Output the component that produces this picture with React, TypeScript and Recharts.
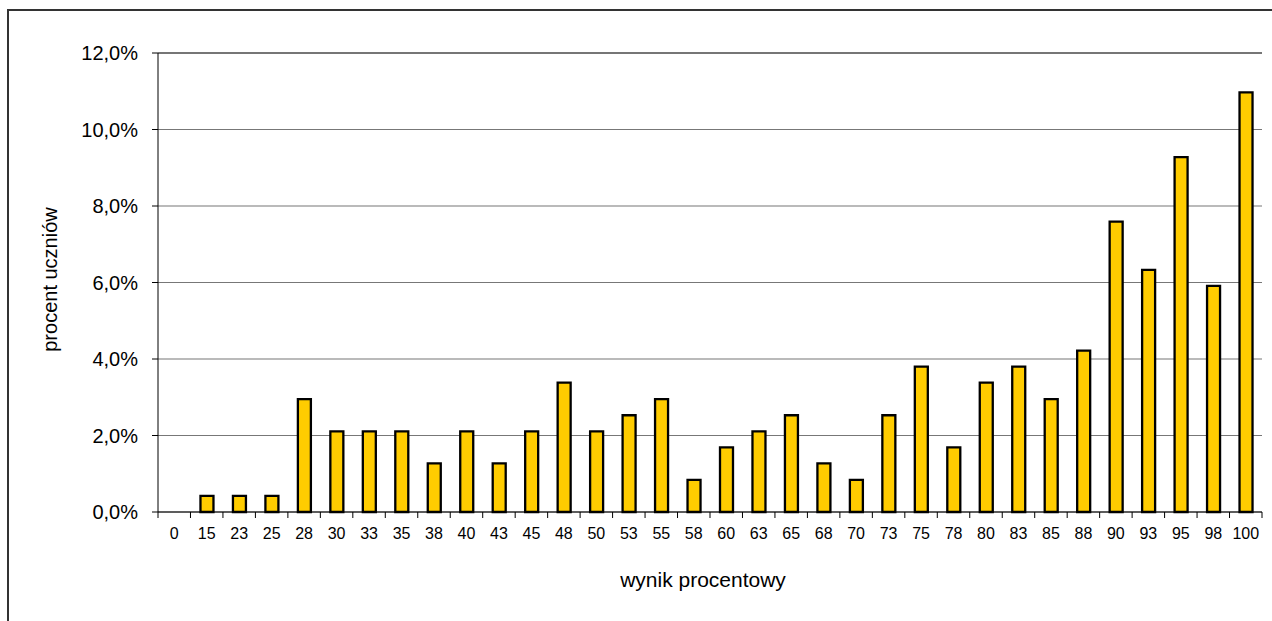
import React from 'react';
import { BarChart, Bar, XAxis, YAxis, CartesianGrid, ReferenceLine } from 'recharts';

const categories = ['0','15','23','25','28','30','33','35','38','40','43','45','48','50','53','55','58','60','63','65','68','70','73','75','78','80','83','85','88','90','93','95','98','100'];
const percentValues = [0, 0.42, 0.42, 0.42, 2.95, 2.11, 2.11, 2.11, 1.27, 2.11, 1.27, 2.11, 3.38, 2.11, 2.53, 2.95, 0.84, 1.69, 2.11, 2.53, 1.27, 0.84, 2.53, 3.80, 1.69, 3.38, 3.80, 2.95, 4.22, 7.59, 6.33, 9.28, 5.91, 10.97];
const yTicks = [0, 2, 4, 6, 8, 10, 12];

const data = categories.map((c, i) => ({ cat: c, value: percentValues[i] }));

const FONT = '"Liberation Sans", Arial, sans-serif';
const CHART_W = 1270;
const CHART_H = 640;
const MARGIN = { top: 42, right: 17, bottom: 49, left: 49 };
const Y_W = 100;
const X_H = 90;
const PLOT_W = CHART_W - MARGIN.left - MARGIN.right - Y_W;
const BAND = PLOT_W / categories.length;

const fmt = (v: number) => v.toFixed(1).replace('.', ',') + '%';

const XTick = (props: any) => {
  const { x, y, payload, index } = props;
  const last = index === categories.length - 1;
  return (
    <g>
      <line x1={x - BAND / 2} y1={y} x2={x - BAND / 2} y2={y + 6} stroke="#000" strokeWidth={1} />
      {last && <line x1={x + BAND / 2} y1={y} x2={x + BAND / 2} y2={y + 6} stroke="#000" strokeWidth={1} />}
      <text x={x} y={y + 27} textAnchor="middle" fontSize={16} fontFamily={FONT} fill="#000">
        {payload.value}
      </text>
    </g>
  );
};

const YTitle = (props: any) => {
  const vb = props.viewBox || {};
  const cx = vb.x + vb.width / 2 - 58;
  const cy = vb.y + vb.height / 2 - 3;
  return (
    <text x={cx} y={cy} transform={`rotate(-90 ${cx} ${cy})`} textAnchor="middle" dominantBaseline="central" fontSize={20} fontFamily={FONT} fill="#000">
      procent uczniów
    </text>
  );
};

const XTitle = (props: any) => {
  const vb = props.viewBox || {};
  const cx = vb.x + vb.width / 2 - 7;
  const by = vb.y + 75;
  return (
    <text x={cx} y={by} textAnchor="middle" fontSize={21} fontFamily={FONT} fill="#000">
      wynik procentowy
    </text>
  );
};

export default function App() {
  return (
    <div
      style={{
        position: 'fixed',
        left: 7,
        top: 9,
        width: 1300,
        height: 700,
        borderTop: '2px solid #333',
        borderLeft: '2px solid #333',
        boxSizing: 'border-box',
        background: '#fff',
      }}
    >
      <BarChart width={CHART_W} height={CHART_H} data={data} margin={MARGIN} barSize={13}>
        <CartesianGrid vertical={false} stroke="#777" strokeWidth={1.2} yAxisId="left" />
        <XAxis
          dataKey="cat"
          interval={0}
          height={X_H}
          tickSize={0}
          tickMargin={0}
          tickLine={false}
          axisLine={{ stroke: '#000', strokeWidth: 1 }}
          tick={<XTick />}
          label={<XTitle />}
        />
        <YAxis
          yAxisId="left"
          width={Y_W}
          domain={[0, 12]}
          ticks={yTicks}
          tickFormatter={fmt}
          tickSize={6}
          tickMargin={14}
          axisLine={{ stroke: '#000', strokeWidth: 1 }}
          tickLine={{ stroke: '#000', strokeWidth: 1 }}
          tick={{ fontSize: 20, fontFamily: FONT, fill: '#000' }}
          label={<YTitle />}
        />
        <YAxis
          yAxisId="right"
          orientation="right"
          width={0}
          domain={[0, 12]}
          tick={false}
          tickLine={false}
          axisLine={{ stroke: '#808080', strokeWidth: 1.5 }}
        />
        <ReferenceLine yAxisId="left" y={12} stroke="#333" strokeWidth={1.2} />
        <Bar yAxisId="left" dataKey="value" fill="#FFCC00" stroke="#000" strokeWidth={2.3} isAnimationActive={false} />
      </BarChart>
    </div>
  );
}
